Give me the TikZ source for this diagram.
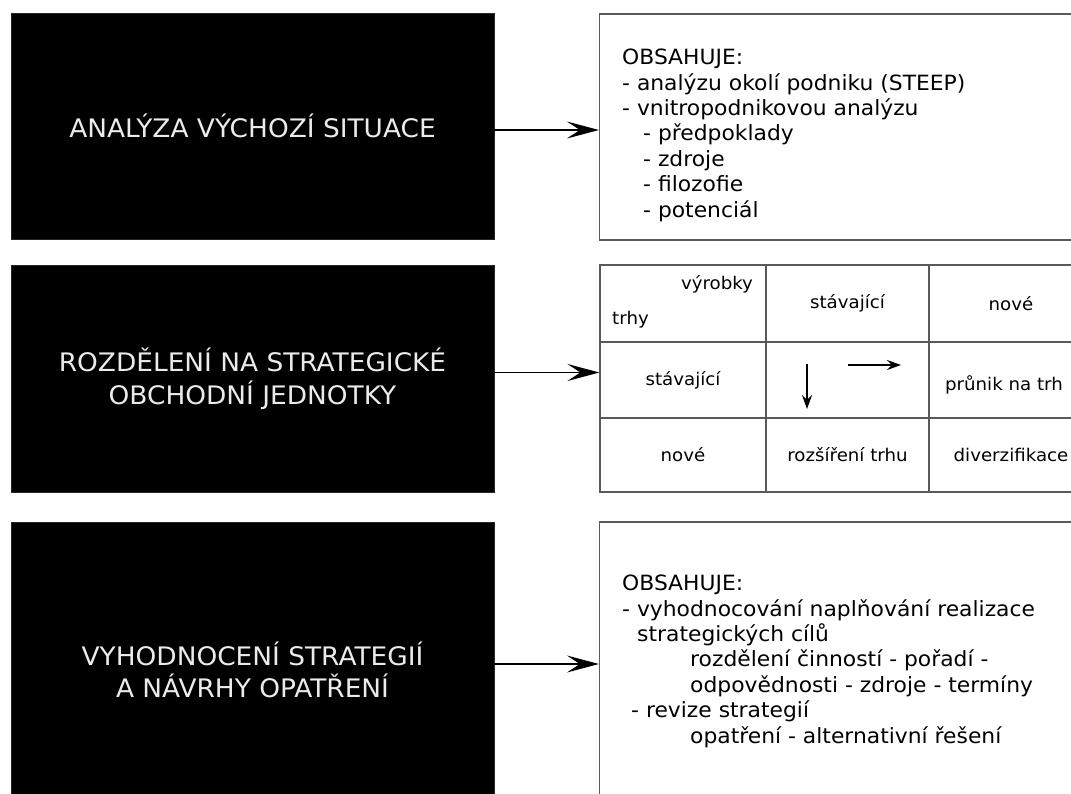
\documentclass[tikz,border=0pt]{standalone}
\usepackage{fontspec}
\setmainfont{DejaVu Sans}
\newfontfamily\boxfont[FakeStretch=1.035]{DejaVu Sans}
\newfontfamily\listfont[FakeStretch=1.04]{DejaVu Sans}
\usetikzlibrary{arrows.meta}

\tikzset{
  blackbox/.style={fill=black, draw=black!85, text=white!92!black, align=center,
    inner sep=0pt, font=\boxfont\fontsize{25.5}{32.5}\selectfont},
  infobox/.style={draw=black!65, line width=1.2pt, fill=white, inner sep=0pt},
  listtext/.style={font=\listfont\fontsize{21}{25.4}\selectfont, align=left,
    anchor=north west, inner sep=0pt},
  cell/.style={draw=black!65, line width=1.2pt, inner sep=0pt,
    font=\listfont\fontsize{17.5}{21}\selectfont},
  celltext/.style={inner sep=0pt, font=\listfont\fontsize{17.5}{21}\selectfont},
  link/.style={-{Stealth[length=32pt,width=17pt,inset=13pt]}, line width=1.9pt},
  minilink/.style={-{Stealth[length=14pt,width=10pt,inset=5pt]}, line width=1.8pt}
}

\begin{document}
\begin{tikzpicture}[x=1pt,y=-1pt]
\useasboundingbox (0,0) rectangle (1071,794);
\clip (0,0) rectangle (1071,794);
\fill[white] (0,0) rectangle (1071,794);

% left column: phase boxes
\node[blackbox, minimum width=483pt, minimum height=226pt] (b1) at (252.5,126)
  {ANALÝZA VÝCHOZÍ SITUACE};
\node[blackbox, minimum width=483pt, minimum height=227pt] (b2) at (252.5,378.5)
  {ROZDĚLENÍ NA STRATEGICKÉ\\OBCHODNÍ JEDNOTKY};
\node[blackbox, minimum width=483pt, minimum height=296pt] (b3) at (252.5,670)
  {VYHODNOCENÍ STRATEGIÍ\\A NÁVRHY OPATŘENÍ};

% right column: contents of each phase
\node[infobox, minimum width=511pt, minimum height=226pt] (r1) at (855,127) {};
\node[listtext] (t1) at (622,49) {%
OBSAHUJE:\\
- analýzu okolí podniku (STEEP)\\
- vnitropodnikovou analýzu\\
\hspace*{21pt}- předpoklady\\
\hspace*{21pt}- zdroje\\
\hspace*{21pt}- filozofie\\
\hspace*{21pt}- potenciál};

% product / market matrix
\node[cell, minimum width=166pt, minimum height=77pt] (c00) at (683,303.5) {};
\node[cell, minimum width=163pt, minimum height=77pt] (c01) at (847.5,303.5) {stávající};
\node[cell, minimum width=164pt, minimum height=77pt] (c02) at (1011,303.5) {nové};
\node[cell, minimum width=166pt, minimum height=76pt] (c10) at (683,380) {stávající};
\node[cell, minimum width=163pt, minimum height=76pt] (c11) at (847.5,380) {};
\node[cell, minimum width=164pt, minimum height=76pt] (c12) at (1011,380) {};
\node[cell, minimum width=166pt, minimum height=74pt] (c20) at (683,455) {nové};
\node[cell, minimum width=163pt, minimum height=74pt] (c21) at (847.5,455) {rozšíření trhu};
\node[cell, minimum width=164pt, minimum height=74pt] (c22) at (1011,455) {diverzifikace};
\node[celltext] (vyr) at (717,284) {výrobky};
\node[celltext, anchor=west] (trh) at (612,320) {trhy};
\node[celltext] (prn) at (1004,385) {průnik na trh};
\coordinate (dA) at (807,364);
\coordinate (dB) at (807,409);
\coordinate (rA) at (848,365);
\coordinate (rB) at (901,365);
\draw[minilink] (dA) -- (dB);
\draw[minilink] (rA) -- (rB);

\node[infobox, minimum width=511pt, minimum height=296pt] (r3) at (855,670) {};
\node[listtext] (t3) at (622,575) {%
OBSAHUJE:\\
- vyhodnocování naplňování realizace\\
\hspace*{15pt}strategických cílů\\
\hspace*{68pt}rozdělení činností - pořadí -\\
\hspace*{68pt}odpovědnosti - zdroje - termíny\\
\hspace*{9pt}- revize strategií\\
\hspace*{68pt}opatření - alternativní řešení};

% connectors
\draw[link] ([yshift=-4pt]b1.east) -- ([yshift=-3pt]r1.west);
\draw[link] ([yshift=6pt]b2.east) -- ([yshift=6pt]b2.east -| c10.west);
\draw[link] ([yshift=6pt]b3.east) -- ([yshift=6pt]r3.west);
\end{tikzpicture}
\end{document}
